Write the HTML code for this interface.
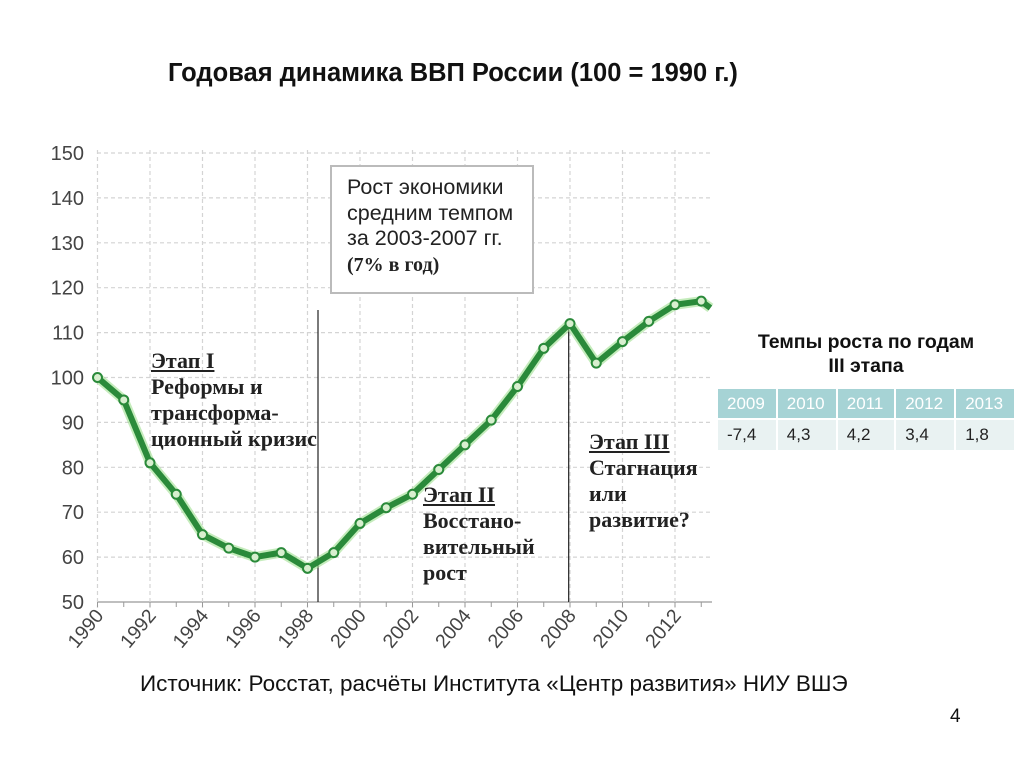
<!DOCTYPE html>
<html><head><meta charset="utf-8">
<style>
body{margin:0;width:1024px;height:768px;background:#fff;font-family:"Liberation Sans","Noto Sans CJK SC",sans-serif;position:relative;overflow:hidden}
.abs{position:absolute}
.serif{font-family:"Liberation Serif","Noto Serif CJK SC",serif;font-weight:bold;font-size:22px;line-height:26px;color:#222}
table{border-collapse:collapse}
</style></head><body>
<div class="abs" style="left:168px;top:59px;font-size:25.5px;font-weight:bold;color:#111;white-space:nowrap">Годовая динамика ВВП России (100 = 1990 г.)</div>
<svg class="abs" style="left:0;top:0" width="1024" height="768" id="chart">
<g id="grid"></g><g id="axes"></g><g id="series"></g>
</svg>
<div class="abs" style="left:330px;top:165px;width:204px;height:129px;border:2px solid #bbb;background:#fff;box-sizing:border-box;padding:8px 0 0 15px;font-size:21.5px;line-height:25.5px;color:#222;white-space:nowrap">Рост экономики<br>средним темпом<br>за 2003-2007 гг.<br><span style="font-family:'Liberation Serif',serif;font-weight:bold;font-size:20px">(7% в год)</span></div>
<div class="abs serif" style="left:151px;top:348px;white-space:nowrap"><u>Этап I</u><br>Реформы и<br>трансформа-<br>ционный кризис</div>
<div class="abs serif" style="left:423px;top:482px;white-space:nowrap"><u>Этап II</u><br>Восстано-<br>вительный<br>рост</div>
<div class="abs serif" style="left:589px;top:429px;white-space:nowrap"><u>Этап III</u><br>Стагнация<br>или<br>развитие?</div>
<div class="abs" style="left:716px;top:330px;width:300px;text-align:center;font-size:19.5px;font-weight:bold;line-height:24px;color:#111">Темпы роста по годам<br>III этапа</div>
<table class="abs" style="left:718px;top:389px;width:296px;font-size:17px">
<tr style="background:#a6d3d5;color:#fff;height:30px"><td style="padding-left:9px;border-right:2px solid #fff">2009</td><td style="padding-left:9px;border-right:2px solid #fff">2010</td><td style="padding-left:9px;border-right:2px solid #fff">2011</td><td style="padding-left:9px;border-right:2px solid #fff">2012</td><td style="padding-left:9px">2013</td></tr>
<tr style="background:#e9f2f2;color:#222;height:31px;border-top:2px solid #fff"><td style="padding-left:9px;border-right:2px solid #fff">-7,4</td><td style="padding-left:9px;border-right:2px solid #fff">4,3</td><td style="padding-left:9px;border-right:2px solid #fff">4,2</td><td style="padding-left:9px;border-right:2px solid #fff">3,4</td><td style="padding-left:9px">1,8</td></tr>
</table>
<div class="abs" style="left:140px;top:671px;font-size:22.5px;color:#111;white-space:nowrap">Источник: Росстат, расчёты Института «Центр развития» НИУ ВШЭ</div>
<div class="abs" style="left:950px;top:706px;font-size:19px;color:#111">4</div>
<script>
const years=[1990,1991,1992,1993,1994,1995,1996,1997,1998,1999,2000,2001,2002,2003,2004,2005,2006,2007,2008,2009,2010,2011,2012,2013];
const gdp=[100,95,81,74,65,62,60,61,57.5,61,67.5,71,74,79.5,85,90.5,98,106.5,112,103.2,108,112.5,116.2,117];
const yTicks=[50,60,70,80,90,100,110,120,130,140,150];
const xTickLabels=[1990,1992,1994,1996,1998,2000,2002,2004,2006,2008,2010,2012];
const NS='http://www.w3.org/2000/svg';
const x=v=>97.5+(v-1990)*26.25;
const y=v=>602-(v-50)*4.49;
function mk(t,a,p){const e=document.createElementNS(NS,t);for(const k in a)e.setAttribute(k,a[k]);p.appendChild(e);return e;}
const grid=document.getElementById('grid'),axes=document.getElementById('axes'),ser=document.getElementById('series');
yTicks.forEach(v=>{
 const l=mk('line',{x1:97,x2:712,y1:y(v),y2:y(v),stroke:v===50?'#999':'#d4d4d4','stroke-dasharray':v===50?'':'4 3','stroke-width':1.2},grid);
 
 
 const t=mk('text',{x:84,y:y(v)+7,'text-anchor':'end','font-size':20,fill:'#444','font-family':'Liberation Sans, sans-serif'},axes);
 t.textContent=v;
 
 
});
xTickLabels.forEach(v=>{
 const l=mk('line',{x1:x(v),x2:x(v),y1:150,y2:608,stroke:'#d4d4d4','stroke-dasharray':'4 3','stroke-width':1.2},grid);
 
 
 const t=mk('text',{transform:`translate(${x(v)+7},${616}) rotate(-50)`,'text-anchor':'end','font-size':19.5,fill:'#444','font-family':'Liberation Sans, sans-serif'},axes);
 t.textContent=v;
 
 
});
years.forEach(v=>{const l=mk('line',{x1:x(v),x2:x(v),y1:602,y2:607,stroke:'#999'},axes);
 
 });
[1998.4,2007.95].forEach(v=>{const l=mk('line',{x1:x(v),x2:x(v),y1:v<2000?310:322,y2:602,stroke:'#222','stroke-width':1.2},axes);
 
 });
let d=years.map((v,i)=>(i?'L':'M')+x(v)+','+y(gdp[i])).join(' ');
d+=' L'+x(2013.35)+','+y(115.5);
const glow=mk('path',{d:d,fill:'none',stroke:'#9fe08f','stroke-width':10,'stroke-linejoin':'round',opacity:0.6},ser);


const line=mk('path',{d:d,fill:'none',stroke:'#2a8a3a','stroke-width':6,'stroke-linejoin':'round'},ser);


years.forEach((v,i)=>{const c=mk('circle',{cx:x(v),cy:y(gdp[i]),r:4.5,fill:'#d8efcf',stroke:'#2a8a3a','stroke-width':2},ser);
 
 });
</script>
</body></html>
